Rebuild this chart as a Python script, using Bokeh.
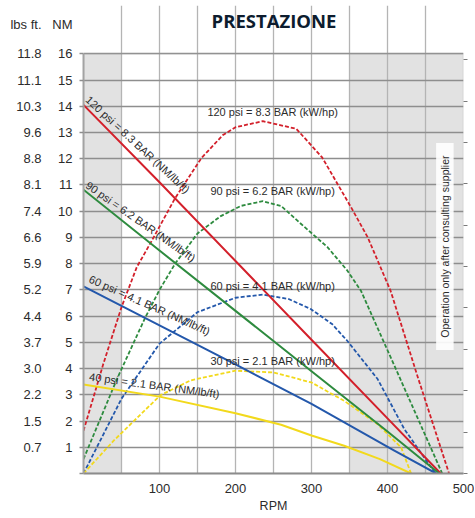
import numpy as np
from bokeh.plotting import figure
from bokeh.models import Range1d, LinearAxis, FixedTicker, BoxAnnotation, Label
from bokeh.embed import file_html
from bokeh.resources import INLINE

# ---------------- data ----------------
nm_ticks = list(range(0, 17))
nm_tick_labels = [""] + [str(t) for t in range(1, 17)]
lbs_ft_labels = ["", "0.7", "1.5", "2.2", "3.0", "3.7", "4.4", "5.2", "5.9",
                 "6.6", "7.4", "8.1", "8.8", "9.6", "10.3", "11.1", "11.8"]
rpm_ticks = list(range(0, 501, 50))
rpm_tick_labels = ["100", "200", "300", "400", "500"]

# torque (NM) - solid lines
t120_rpm = [0, 100, 200, 300, 400, 470]
t120_nm = [14.05, 11.1, 8.1, 5.1, 2.1, 0.0]
t90_rpm = [0, 100, 200, 300, 400, 468]
t90_nm = [10.82, 8.5, 6.2, 3.9, 1.6, 0.0]
t60_rpm = [0, 100, 200, 300, 409, 464]
t60_nm = [7.13, 5.65, 4.16, 2.65, 0.87, 0.0]
t40_rpm = [0, 100, 200, 260, 300, 343, 390, 431]
t40_nm = [3.39, 2.93, 2.3, 1.86, 1.45, 1.06, 0.55, 0.0]

# power (kW/hp, drawn on NM scale) - dashed lines
p120_rpm = [0, 26, 50, 70, 90, 120, 155, 183, 200, 236, 280, 314, 352, 374, 404, 440, 481]
p120_val = [1.63, 4.17, 6.34, 7.86, 8.88, 10.47, 12.02, 12.89, 13.2, 13.43, 13.14, 12.05,
            10.15, 9.0, 6.97, 3.66, 0.0]
p90_rpm = [0, 44, 81, 100, 121, 150, 180, 207, 236, 260, 286, 321, 347, 365, 412, 472]
p90_val = [0.55, 3.6, 5.93, 7.0, 8.02, 9.15, 9.8, 10.2, 10.38, 10.2, 9.52, 8.63, 7.74,
           6.97, 3.92, 0.0]
p60_rpm = [0, 50, 100, 150, 200, 236, 270, 299, 327, 347, 387, 422, 463]
p60_val = [0.0, 2.85, 4.95, 6.15, 6.7, 6.82, 6.65, 6.27, 5.7, 5.06, 3.6, 1.7, 0.0]
p30_rpm = [0, 40, 101, 141, 200, 250, 300, 343, 387, 418, 431]
p30_val = [0.0, 1.26, 2.98, 3.55, 3.92, 3.85, 3.47, 2.77, 1.88, 0.99, 0.0]

nm_curve_labels = ["120 psi = 8.3 BAR (NM/lb/ft)", "90 psi = 6.2 BAR (NM/lb/ft)",
                   "60 psi = 4.1 BAR (NM/lb/ft)", "40 psi = 2.1 BAR (NM/lb/ft)"]
kw_curve_labels = ["120 psi = 8.3 BAR (kW/hp)", "90 psi = 6.2 BAR (kW/hp)",
                   "60 psi = 4.1 BAR (kW/hp)", "30 psi = 2.1 BAR (kW/hp)"]

# ---------------- styles / layout ----------------
RED = "#d3202b"
GREEN = "#2e8b3f"
BLUE = "#2458ab"
YELLOW = "#f2d91c"
TXT = "#2b2b2b"
FONT = "Liberation Sans"
BORDER = "#9c9c9c"
Y_TOP = 17.84     # range extends above 16 so the heading band lies inside the frame
HDR_Y = 17.12     # heading row ("lbs ft.", "NM")
PX_PER_RPM = 0.76
PX_PER_NM = 26.23

p = figure(width=474, height=517, x_range=Range1d(0, 500), y_range=Range1d(0, Y_TOP),
           output_backend="svg", toolbar_location=None,
           min_border_left=83, min_border_right=11, min_border_top=5, min_border_bottom=44)
p.background_fill_color = "white"
p.border_fill_color = "white"
p.outline_line_color = None

# shaded zones
for l, r in [(0, 50), (350, 500)]:
    p.add_layout(BoxAnnotation(left=l, right=r, bottom=0, top=16, fill_color="#e2e2e2",
                               fill_alpha=1, line_color=None, level="image"))

# grids
p.xgrid.ticker = FixedTicker(ticks=rpm_ticks)
p.xgrid.bounds = (0, 16)
p.xgrid.grid_line_color = "#b4b4b4"
p.xgrid.grid_line_width = 1.3
p.ygrid.ticker = FixedTicker(ticks=nm_ticks)
p.ygrid.grid_line_color = "#8e8e8e"
p.ygrid.grid_line_width = 1.3

# x axis
p.xaxis.ticker = FixedTicker(ticks=rpm_ticks)
overrides = {t: "" for t in rpm_ticks}
for lab in rpm_tick_labels:
    overrides[int(lab)] = lab
p.xaxis.major_label_overrides = overrides
p.xaxis.major_tick_out = 0
p.xaxis.major_tick_in = 0
p.xaxis.minor_tick_out = 0
p.xaxis.minor_tick_in = 0
p.xaxis.major_label_standoff = 10
p.xaxis.major_label_text_font = FONT
p.xaxis.major_label_text_font_size = "13px"
p.xaxis.major_label_text_color = TXT
p.xaxis.axis_line_color = "#8a8a8a"
p.xaxis.axis_line_width = 2
p.xaxis.axis_label = "RPM"
p.xaxis.axis_label_standoff = 3
p.xaxis.axis_label_text_font = FONT
p.xaxis.axis_label_text_font_style = "normal"
p.xaxis.axis_label_text_font_size = "12.5px"
p.xaxis.axis_label_text_color = TXT

# innermost left axis: frame edge + tick stubs only
stub = p.yaxis[0]
stub.ticker = FixedTicker(ticks=nm_ticks)
stub.bounds = (0, 16)
stub.major_label_overrides = {t: "" for t in nm_ticks}
stub.major_label_standoff = 0
stub.major_label_text_font_size = "1px"
stub.major_tick_out = 4
stub.major_tick_in = 0
stub.minor_tick_out = 0
stub.minor_tick_in = 0
stub.major_tick_line_color = "#8e8e8e"
stub.major_tick_line_width = 1.3
stub.axis_line_color = "#a5a5a5"
stub.axis_line_width = 2

# NM labels
nm_axis = LinearAxis(ticker=FixedTicker(ticks=nm_ticks + [HDR_Y]),
                     major_label_overrides={**{t: s for t, s in zip(nm_ticks, nm_tick_labels)},
                                            HDR_Y: "NM"})
# lbs ft labels
lbs_axis = LinearAxis(ticker=FixedTicker(ticks=nm_ticks + [HDR_Y]),
                      major_label_overrides={**{t: s for t, s in zip(nm_ticks, lbs_ft_labels)},
                                             HDR_Y: "lbs ft."})
for ax, so in [(nm_axis, 7), (lbs_axis, 8)]:
    ax.axis_line_color = None
    ax.major_tick_line_color = None
    ax.minor_tick_line_color = None
    ax.major_tick_out = 0
    ax.major_tick_in = 0
    ax.minor_tick_out = 0
    ax.minor_tick_in = 0
    ax.major_label_standoff = so
    ax.major_label_text_font = FONT
    ax.major_label_text_font_size = "13px"
    ax.major_label_text_color = TXT
    p.add_layout(ax, "left")

# right axis (ticks only)
p.extra_y_ranges = {"right": Range1d(0, 11.31)}
r_ticks = list(range(0, 11))
r_axis = LinearAxis(y_range_name="right", ticker=FixedTicker(ticks=r_ticks), bounds=(0, 10),
                    major_label_overrides={t: "" for t in r_ticks})
r_axis.axis_line_color = None
r_axis.major_tick_out = 4
r_axis.major_tick_in = 0
r_axis.minor_tick_line_color = None
r_axis.major_tick_line_color = "#7a7a7a"
r_axis.major_label_standoff = 0
r_axis.major_label_text_font_size = "1px"
p.add_layout(r_axis, "right")

# curves
solid = [(t120_rpm, t120_nm, RED), (t90_rpm, t90_nm, GREEN),
         (t60_rpm, t60_nm, BLUE), (t40_rpm, t40_nm, YELLOW)]
dashed = [(p120_rpm, p120_val, RED), (p90_rpm, p90_val, GREEN),
          (p60_rpm, p60_val, BLUE), (p30_rpm, p30_val, YELLOW)]
for xs, ys, c in dashed:
    p.line(xs, ys, line_color=c, line_width=1.8, line_dash="4 2", line_join="round")
for xs, ys, c in solid:
    p.line(xs, ys, line_color=c, line_width=2, line_join="round")

# plot-area border (top / right edges)
p.add_layout(BoxAnnotation(left=0, right=500, bottom=0, top=16, fill_color=None,
                           line_color=BORDER, line_width=1.5))

# rotated NM labels sitting just above the torque lines
nm_anchor_x = [0, 0, 5, 6.7]
nm_anchor_dy = [0.1, 0.03, 0.17, 0.11]
nm_angles = [-42.8, -35, -24, -7.7]
LIFT = 6.0   # perpendicular lift in px
for (xs, ys, c), txt, ax_, dy, ang in zip(solid, nm_curve_labels, nm_anchor_x, nm_anchor_dy, nm_angles):
    th = np.radians(abs(ang))
    base_y = float(np.interp(ax_, xs, ys)) + dy
    lx = ax_ + LIFT * np.sin(th) / PX_PER_RPM
    ly = base_y + LIFT * np.cos(th) / PX_PER_NM
    p.add_layout(Label(x=float(lx), y=float(ly), text=txt, angle=ang, angle_units="deg",
                       text_font=FONT, text_font_size="11px", text_color=TXT,
                       text_align="left", text_baseline="middle"))

# horizontal kW labels
kw_x = [163, 167, 167, 167]
kw_y = [13.78, 10.75, 7.13, 4.27]
for txt, x, y in zip(kw_curve_labels, kw_x, kw_y):
    p.add_layout(Label(x=x, y=y, text=txt, text_font=FONT, text_font_size="11px",
                       text_color=TXT, text_align="left", text_baseline="middle"))

# supplier note box
p.add_layout(BoxAnnotation(left=464, right=487, bottom=4.71, top=12.6,
                           fill_color="white", fill_alpha=0.9, line_color=None))
p.add_layout(Label(x=475.5, y=8.65, text="Operation only after consulting supplier",
                   angle=90, angle_units="deg", text_font=FONT, text_font_size="10.5px",
                   text_color=TXT, text_align="center", text_baseline="middle"))

# title
p.add_layout(Label(x=250.7, y=17.27, text="PRESTAZIONE", text_font="Open Sans",
                   text_font_style="bold", text_font_size="18.5px", text_color="#0d1c2e",
                   text_align="center", text_baseline="middle"))

open("out.html", "w").write(file_html(p, INLINE))
